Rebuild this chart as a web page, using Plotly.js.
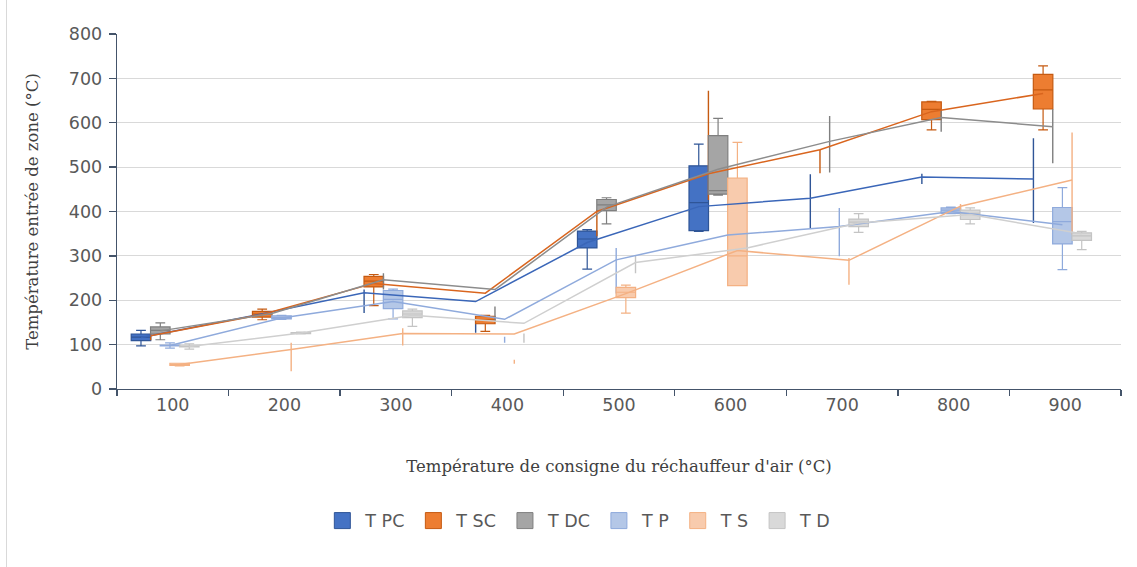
<!DOCTYPE html>
<html>
<head>
<meta charset="utf-8">
<script src="https://cdn.plot.ly/plotly-3.0.1.min.js"></script>
<style>
html,body{margin:0;padding:0;background:#ffffff;}
#chart{width:1137px;height:567px;}
</style>
</head>
<body>
<div id="chart"></div>
<script>
// ---- DATA ----
const categories = ['100','200','300','400','500','600','700','800','900'];
const seriesNames = ['T PC','T SC','T DC','T P','T S','T D'];

// T PC
const tpcLow  = [97, 163, 171, 127, 270, 355, 363, 462, 374];
const tpcQ1   = [109,165, 218, 147, 318, 357, 430, 478, 473];
const tpcMed  = [117,165, 218, 147, 338, 420, 430, 478, 473];
const tpcQ3   = [124,165, 218, 147, 356, 503, 430, 478, 473];
const tpcHigh = [132,167, 224, 164, 359, 552, 484, 485, 565];
const tpcMean = [116,165, 217, 197, 330, 411, 430, 478, 473];
// T SC
const tscLow  = [110,156, 188, 130, 344, 426, 486, 584, 584];
const tscQ1   = [120,162, 230, 147, 400, 485, 539, 607, 631];
const tscMed  = [120,169, 243, 156, 400, 485, 539, 630, 674];
const tscQ3   = [120,175, 254, 164, 400, 485, 539, 647, 709];
const tscHigh = [126,180, 258, 166, 404, 672, 539, 648, 728];
const tscMean = [120,168, 238, 216, 400, 485, 539, 625, 666];
// T DC
const tdcLow  = [111,168, 224, 152, 372, 437, 488, 580, 509];
const tdcQ1   = [124,170, 246, 165, 402, 439, 558, 612, 591];
const tdcMed  = [132,170, 246, 165, 415, 447, 558, 612, 591];
const tdcQ3   = [140,170, 246, 165, 427, 571, 558, 612, 591];
const tdcHigh = [149,172, 261, 186, 431, 610, 615, 629, 631];
const tdcMean = [131,170, 246, 224, 410, 495, 558, 612, 591];
// T P
const tpLow   = [92, 157, 158, 104, 215, 340, 299, 395, 269];
const tpQ1    = [97, 158, 181, 111, 291, 347, 366, 396, 327];
const tpMed   = [98, 161, 202, 111, 291, 347, 366, 403, 377];
const tpQ3    = [99, 165, 222, 111, 291, 347, 366, 408, 409];
const tpHigh  = [104,166, 225, 118, 318, 355, 408, 410, 454];
const tpMean  = [98, 160, 197, 157, 291, 347, 366, 400, 370];
// T S
const tsLow   = [52, 40,  98,  57, 171, 233, 235, 396, 348];
const tsQ1    = [53, 89, 125,  62, 206, 233, 290, 413, 471];
const tsMed   = [55, 89, 125,  62, 218, 300, 290, 413, 471];
const tsQ3    = [58, 89, 125,  62, 229, 475, 290, 413, 471];
const tsHigh  = [58, 104, 137, 66, 234, 556, 295, 417, 578];
const tsMean  = [55, 89, 125, 124, 215, 312, 290, 412, 471];
// T D
const tdLow   = [90, 124, 141, 104, 261, 310, 353, 372, 314];
const tdQ1    = [95, 125, 161, 115, 285, 318, 366, 382, 335];
const tdMed   = [96, 126, 169, 115, 285, 318, 376, 396, 345];
const tdQ3    = [97, 127, 176, 115, 285, 318, 383, 403, 352];
const tdHigh  = [102,128, 180, 125, 300, 350, 395, 408, 355];
const tdMean  = [96, 126, 166, 148, 285, 318, 374, 393, 350];

const yTicks = [0,100,200,300,400,500,600,700,800];

// ---- STYLE ----
const fills = ['#4472C4','#ED7D31','#A5A5A5','#B4C7E7','#F8CBAD','#D9D9D9'];
const edges = ['#2F5597','#C55A11','#7F7F7F','#8FAADC','#F4B183','#C4C4C4'];
const lineCols = ['#3A66B8','#D9651E','#8C8C8C','#8FAADC','#F4B183','#CFCFCF'];

const stats = [
  [tpcLow,tpcQ1,tpcMed,tpcQ3,tpcHigh,tpcMean],
  [tscLow,tscQ1,tscMed,tscQ3,tscHigh,tscMean],
  [tdcLow,tdcQ1,tdcMed,tdcQ3,tdcHigh,tdcMean],
  [tpLow,tpQ1,tpMed,tpQ3,tpHigh,tpMean],
  [tsLow,tsQ1,tsMed,tsQ3,tsHigh,tsMean],
  [tdLow,tdQ1,tdMed,tdQ3,tdHigh,tdMean]
];

const firstOffset = -0.285;
const step = 0.0866;
const boxW = 0.175;

const traces = [];
function pick(arr, idx) { return idx.map(i => arr[i]); }

stats.forEach((s, k) => {
  const xs = categories.map((c, i) => i + firstOffset + k * step);
  const full = [], flat = [];
  categories.forEach((c, i) => { (s[1][i] === s[3][i] ? flat : full).push(i); });
  if (full.length) traces.push({
    type: 'box', name: seriesNames[k], legendgroup: seriesNames[k],
    x: pick(xs, full), lowerfence: pick(s[0], full), q1: pick(s[1], full),
    median: pick(s[2], full), q3: pick(s[3], full), upperfence: pick(s[4], full),
    width: boxW, whiskerwidth: 0.5,
    fillcolor: fills[k], line: {color: edges[k], width: 1.2},
    boxpoints: false, hoverinfo: 'skip', showlegend: false
  });
  // quartiles collapsed: only the whisker stroke is visible
  if (flat.length) traces.push({
    type: 'box', name: seriesNames[k], legendgroup: seriesNames[k],
    x: pick(xs, flat), lowerfence: pick(s[0], flat), q1: pick(s[1], flat),
    median: pick(s[2], flat), q3: pick(s[3], flat), upperfence: pick(s[4], flat),
    width: 0.002, whiskerwidth: 0,
    fillcolor: fills[k], line: {color: edges[k], width: 1.4},
    boxpoints: false, hoverinfo: 'skip', showlegend: false
  });
});
stats.forEach((s, k) => {
  const xs = categories.map((c, i) => i + firstOffset + k * step);
  traces.push({
    type: 'scatter', mode: 'lines', x: xs, y: s[5],
    line: {color: lineCols[k], width: 1.5},
    legendgroup: seriesNames[k], showlegend: false, hoverinfo: 'skip'
  });
});
// legend entries (square swatches)
seriesNames.forEach((n, k) => {
  traces.push({
    type: 'scatter', mode: 'markers', name: n, legendgroup: n,
    x: [null], y: [null], showlegend: true, hoverinfo: 'skip',
    marker: {symbol: 'square', size: 16, color: fills[k], line: {color: edges[k], width: 1}}
  });
});

const tickFont = {family: 'DejaVu Sans, Open Sans, sans-serif', size: 17.5, color: '#595959'};
const titleFont = {family: 'DejaVu Serif, Liberation Serif, serif', size: 16.5, color: '#404040'};

const layout = {
  width: 1137, height: 567,
  paper_bgcolor: '#ffffff', plot_bgcolor: '#ffffff',
  margin: {l: 117, r: 16, t: 34, b: 178, pad: 0},
  boxmode: 'overlay',
  showlegend: true,
  legend: {orientation: 'h', x: 0.459, xanchor: 'center', y: -0.371, yanchor: 'middle',
           font: {family: 'DejaVu Sans, Open Sans, sans-serif', size: 17.5, color: '#595959'},
           traceorder: 'normal', itemclick: false, itemsizing: 'trace', itemwidth: 36},
  xaxis: {
    range: [-0.5, 8.5], tickmode: 'array',
    tickvals: categories.map((c, i) => i), ticktext: categories,
    ticks: '', showgrid: false, zeroline: false,
    showline: true, linecolor: '#44546A', linewidth: 1.3,
    tickfont: tickFont,
    minor: {tickmode: 'array', tickvals: categories.map((c, i) => i - 0.5).concat([categories.length - 0.5]),
            ticks: 'outside', ticklen: 6, tickcolor: '#44546A', tickwidth: 1.3, showgrid: false},
    title: {text: 'Température de consigne du réchauffeur d\'air (°C)', font: titleFont, standoff: 46}
  },
  yaxis: {
    range: [0, 800], tickmode: 'array', tickvals: yTicks,
    ticks: 'outside', ticklen: 7, tickcolor: '#44546A', tickwidth: 1.3,
    showline: true, linecolor: '#44546A', linewidth: 1.3,
    showgrid: true, gridcolor: '#D9D9D9', gridwidth: 1, zeroline: false,
    tickfont: tickFont, ticklabelstandoff: 3,
    title: {text: 'Température entrée de zone (°C)', font: titleFont, standoff: 26}
  },
  shapes: [
    {type: 'line', xref: 'paper', yref: 'paper',
     x0: -110.5 / 1004, x1: -110.5 / 1004, y0: 389 / 355, y1: -178 / 355,
     line: {color: '#D9D9D9', width: 1}}
  ]
};

Plotly.newPlot('chart', traces, layout, {staticPlot: true, displayModeBar: false});
</script>
</body>
</html>
